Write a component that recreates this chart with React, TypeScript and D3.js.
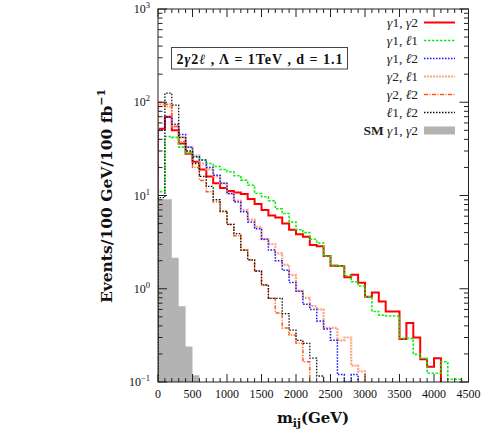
import React from "react";
import * as d3 from "d3";

// bin width 100 GeV, bin i spans [100 i, 100 (i+1)]
const redG1G2 = [52,70,50,36,28,23,19,16,13.5,12,11.2,10.8,10.4,9.2,8.1,7.0,6.1,5.8,5.0,4.3,3.85,3.6,2.95,2.85,2.25,1.77,1.75,1.33,1.41,1.16,0.82,0.91,0.73,0.57,0.57,0.29,0.43,0.30,0.175,0.146,0.18];
const greenG1L1 = [11,43,42,33,29,26,24,22,20.5,19,18,16.3,14.6,12.9,10.5,9.7,8.8,7.2,6.4,5.2,4.3,4.0,3.4,3.1,2.24,1.78,1.75,1.38,1.19,1.07,0.82,0.57,0.52,0.51,0.51,0.294,0.294,0.198,0.18,0.124,0.124,0.165,0.107,0.107];
const blueG1L2 = [50,69,58,45,33,26,24,20,16.5,13.5,10.5,8.5,6.7,5.2,4.4,3.4,2.6,2.0,1.58,1.17,0.94,0.68,0.6,0.45,0.37,0.28,0.12,0.05,0.12];
const salmonG2L1 = [95,90,55,42,33,27,22,19,16,13.5,10.5,8.8,7.0,5.5,4.6,3.4,3.0,2.4,1.8,1.4,0.95,0.8,0.65,0.6,0.38,0.38,0.28,0.30,0.15,0.13];
const orangeG2L2 = [100,95,55,38,28,20,14.5,11,8.5,6.7,4.9,3.7,2.6,2.04,1.55,1.1,0.79,0.55,0.38,0.32,0.26,0.165];
const blackL1L2 = [9.5,125,93,42,30,22,16,12.5,9.0,6.8,4.9,3.9,2.6,2.04,1.55,1.1,0.79,0.79,0.54,0.36,0.28,0.26,0.18,0.116];
const smG1G2 = [9.1,9.1,2.15,0.65,0.24,0.118];

const binWidth = 100;
const xTicks = [0,500,1000,1500,2000,2500,3000,3500,4000,4500];
const yDecades = [-1,0,1,2,3];

const series = [
  { key: "g1g2", data: redG1G2, color: "#ff0000", width: 2, dash: "", opacity: 1 },
  { key: "g2l1", data: salmonG2L1, color: "#ff9a74", width: 2.2, dash: "2,1", opacity: 0.9 },
  { key: "g2l2", data: orangeG2L2, color: "#ff5a1a", width: 1.5, dash: "4,1.5,1,1.5", opacity: 1 },
  { key: "g1l1", data: greenG1L1, color: "#11ee11", width: 1.6, dash: "2.5,1.5", opacity: 1 },
  { key: "g1l2", data: blueG1L2, color: "#1010ff", width: 1.5, dash: "1.5,1.5", opacity: 1 },
  { key: "l1l2", data: blackL1L2, color: "#111111", width: 1.3, dash: "1.5,1.5", opacity: 1 },
];

const legendItems = [
  { key: "g1g2", a: "γ", b: "1, ", c: "γ", d: "2" },
  { key: "g1l1", a: "γ", b: "1, ", c: "ℓ", d: "1" },
  { key: "g1l2", a: "γ", b: "1, ", c: "ℓ", d: "2" },
  { key: "g2l1", a: "γ", b: "2, ", c: "ℓ", d: "1" },
  { key: "g2l2", a: "γ", b: "2, ", c: "ℓ", d: "2" },
  { key: "l1l2", a: "ℓ", b: "1, ", c: "ℓ", d: "2" },
];

const L = 158, R = 468.5, T = 9, B = 382;
const x = d3.scaleLinear().domain([0, 4500]).range([L, R]);
const y = d3.scaleLog().domain([0.1, 1000]).range([B, T]);
const FONT = "'Liberation Serif', 'DejaVu Serif', serif";
const BOLDFONT = "'DejaVu Serif', 'Liberation Serif', serif";

function stepPath(vals: number[]) {
  const yy = (v: number) => y(Math.max(v, 0.1));
  const p = d3.path();
  p.moveTo(x(0), B);
  vals.forEach((v, i) => {
    p.lineTo(x(i * binWidth), yy(v));
    p.lineTo(x((i + 1) * binWidth), yy(v));
  });
  p.lineTo(x(vals.length * binWidth), B);
  return p.toString();
}

function areaPath(vals: number[]) {
  const p = d3.path();
  p.moveTo(x(0), B);
  vals.forEach((v, i) => {
    p.lineTo(x(i * binWidth), y(v));
    p.lineTo(x((i + 1) * binWidth), y(v));
  });
  p.lineTo(x(vals.length * binWidth), B);
  p.closePath();
  return p.toString();
}

export default function App() {
  const xMinor = d3.range(0, 4501, 100);
  const yMinor: { v: number; major: boolean }[] = [];
  for (let e = -1; e <= 3; e++) {
    for (let m = 1; m <= 9; m++) {
      const v = m * Math.pow(10, e);
      if (v > 1000) break;
      yMinor.push({ v, major: m === 1 });
    }
  }
  const byKey: Record<string, any> = {};
  series.forEach((s) => (byKey[s.key] = s));
  const legX = 418, legLine0 = 424, legLine1 = 455;
  const rowY = (i: number) => 22.5 + i * 18;

  return (
    <svg width={485} height={429} style={{ display: "block", position: "absolute", left: 0, top: 0 }} fontFamily={FONT}>
      <rect x={0} y={0} width={485} height={429} fill="#fff" />
      <defs>
        <clipPath id="plot">
          <rect x={L} y={T} width={R - L} height={B - T} />
        </clipPath>
      </defs>
      <g clipPath="url(#plot)">
        <path d={areaPath(smG1G2)} fill="#b3b3b3" stroke="none" />
        {series.map((s) => (
          <path key={s.key} d={stepPath(s.data)} fill="none" stroke={s.color} strokeWidth={s.width}
            strokeDasharray={s.dash || undefined} strokeOpacity={s.opacity} />
        ))}
      </g>
      {/* frame */}
      <rect x={L} y={T} width={R - L} height={B - T} fill="none" stroke="#222" strokeWidth={1} />
      {/* x ticks */}
      {xMinor.map((v) => {
        const len = v % 500 === 0 ? 8 : 4;
        return (
          <g key={"xt" + v} stroke="#222" strokeWidth={1}>
            <line x1={x(v)} x2={x(v)} y1={B} y2={B - len} />
            <line x1={x(v)} x2={x(v)} y1={T} y2={T + len} />
          </g>
        );
      })}
      {/* y ticks */}
      {yMinor.map((t, i) => {
        const len = t.major ? 9 : 4.5;
        return (
          <g key={"yt" + i} stroke="#222" strokeWidth={1}>
            <line x1={L} x2={L + len} y1={y(t.v)} y2={y(t.v)} />
            <line x1={R} x2={R - len} y1={y(t.v)} y2={y(t.v)} />
          </g>
        );
      })}
      {/* x tick labels */}
      {xTicks.map((v) => (
        <text key={"xl" + v} x={x(v)} y={398} fontSize={12} textAnchor="middle" fill="#111">{v}</text>
      ))}
      {/* y tick labels */}
      {yDecades.map((e) => (
        <text key={"yl" + e} x={150} y={y(Math.pow(10, e)) + 4} fontSize={12} textAnchor="end" fill="#111">
          10<tspan dy={-5} fontSize={8.5}>{e < 0 ? "−1" : String(e)}</tspan>
        </text>
      ))}
      {/* axis titles */}
      <text x={313} y={423} fontSize={15} fontWeight="bold" textAnchor="middle" fill="#111" fontFamily={BOLDFONT}>
        m<tspan dy={4} fontSize={11}>ij</tspan><tspan dy={-4}>(GeV)</tspan>
      </text>
      <text transform="translate(112,196) rotate(-90)" fontSize={15.5} fontWeight="bold" textAnchor="middle" fill="#111" fontFamily={BOLDFONT}>
        Events/100 GeV/100 fb<tspan dy={-7} fontSize={11}>−1</tspan>
      </text>
      {/* annotation box */}
      <rect x={171.5} y={47.5} width={176} height={21.5} fill="#fff" stroke="#444" strokeWidth={1} />
      <text x={176.5} y={63.5} fontSize={14} fontWeight="bold" textAnchor="start" fill="#111"
        textLength={166} lengthAdjust="spacing">
        2<tspan fontStyle="italic">γ</tspan>2<tspan fontStyle="italic">ℓ</tspan> ,  Λ = 1TeV , d = 1.1
      </text>
      {/* legend */}
      {legendItems.map((it, i) => {
        const s = byKey[it.key];
        const yy = rowY(i);
        return (
          <g key={"lg" + it.key}>
            <text x={legX} y={yy + 4.5} fontSize={13.5} textAnchor="end" fill="#222">
              <tspan fontStyle="italic">{it.a}</tspan>{it.b}<tspan fontStyle="italic">{it.c}</tspan>{it.d}
            </text>
            <line x1={legLine0} x2={legLine1} y1={yy} y2={yy} stroke={s.color} strokeWidth={s.width}
              strokeDasharray={s.dash || undefined} strokeOpacity={s.opacity} />
          </g>
        );
      })}
      <g>
        <text x={legX} y={rowY(6) + 4.5} fontSize={13.5} textAnchor="end" fill="#222">
          <tspan fontWeight="bold">SM </tspan><tspan fontStyle="italic">γ</tspan>1, <tspan fontStyle="italic">γ</tspan>2
        </text>
        <rect x={legLine0} y={rowY(6) - 4} width={legLine1 - legLine0} height={8} fill="#b3b3b3" />
      </g>
    </svg>
  );
}
